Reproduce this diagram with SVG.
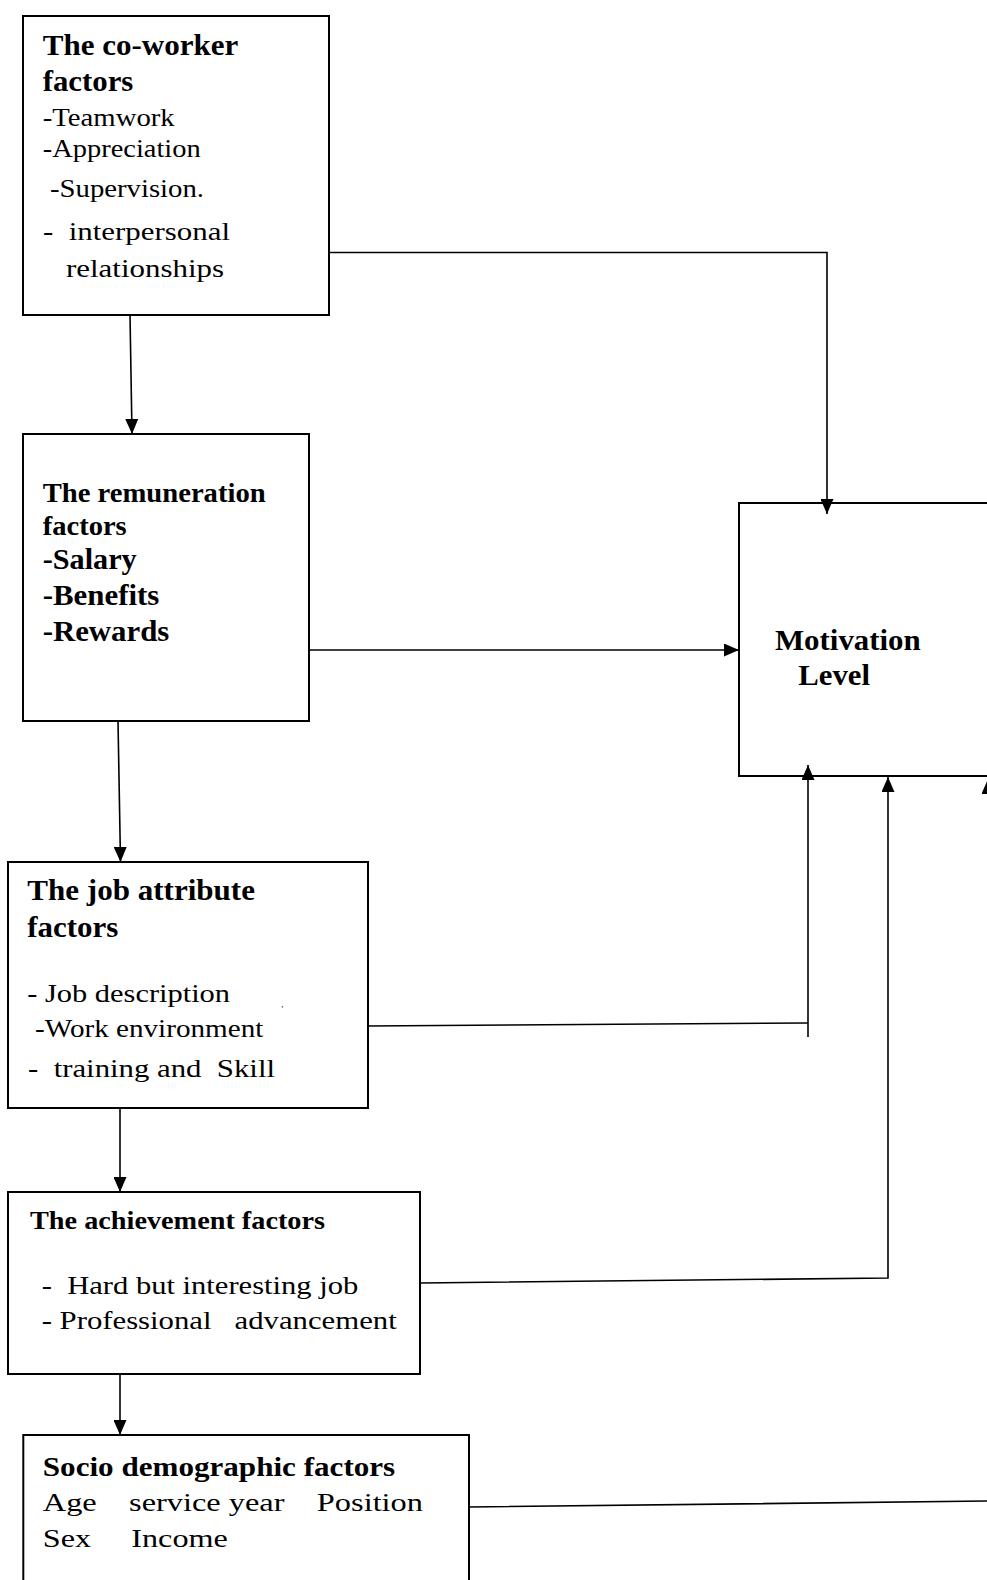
<svg xmlns="http://www.w3.org/2000/svg" width="987" height="1580" viewBox="0 0 987 1580">
<style>
  .box { fill: #ffffff; stroke: #000000; stroke-width: 2; }
  .ln { fill: none; stroke: #000000; stroke-width: 1.6; }
  .t { font-family: 'Liberation Serif', 'Times New Roman', Times, serif; fill: #000000; white-space: pre; }
  .b { font-weight: bold; }
</style>
<defs>
  <marker id="ah" viewBox="0 0 15 13" refX="15" refY="6.5" markerWidth="15" markerHeight="13" orient="auto" markerUnits="userSpaceOnUse">
    <path d="M0,0 L15,6.5 L0,13 z" fill="#000000"/>
  </marker>
</defs>
<rect width="987" height="1580" fill="#ffffff"/>

<g id="node-coworker">
  <rect class="box" x="23" y="16" width="306" height="299"/>
  <text class="t b" x="42.7" y="55" font-size="29" textLength="195.6" lengthAdjust="spacingAndGlyphs">The co-worker</text>
  <text class="t b" x="42.7" y="90.7" font-size="29" textLength="90.6" lengthAdjust="spacingAndGlyphs">factors</text>
  <text class="t" x="42.7" y="126" font-size="25" textLength="132" lengthAdjust="spacingAndGlyphs">-Teamwork</text>
  <text class="t" x="42.7" y="157.3" font-size="25" textLength="158" lengthAdjust="spacingAndGlyphs">-Appreciation</text>
  <text class="t" x="50" y="197" font-size="25" textLength="154" lengthAdjust="spacingAndGlyphs">-Supervision.</text>
  <text class="t" x="43" y="240" font-size="26" textLength="187" lengthAdjust="spacingAndGlyphs">-  interpersonal</text>
  <text class="t" x="66" y="276.7" font-size="26" textLength="158" lengthAdjust="spacingAndGlyphs">relationships</text>
</g>

<g id="node-remuneration">
  <rect class="box" x="23" y="434" width="286" height="287"/>
  <text class="t b" x="42.7" y="502" font-size="27" textLength="223" lengthAdjust="spacingAndGlyphs">The remuneration</text>
  <text class="t b" x="42.7" y="535" font-size="27" textLength="84" lengthAdjust="spacingAndGlyphs">factors</text>
  <text class="t b" x="42.7" y="569" font-size="29" textLength="94" lengthAdjust="spacingAndGlyphs">-Salary</text>
  <text class="t b" x="42.7" y="605" font-size="29" textLength="116.6" lengthAdjust="spacingAndGlyphs">-Benefits</text>
  <text class="t b" x="42.7" y="641" font-size="29" textLength="126.6" lengthAdjust="spacingAndGlyphs">-Rewards</text>
</g>

<g id="node-motivation">
  <rect class="box" x="739" y="503" width="270" height="273"/>
  <text class="t b" x="775" y="650" font-size="29" textLength="145.7" lengthAdjust="spacingAndGlyphs">Motivation</text>
  <text class="t b" x="798.3" y="685" font-size="29" textLength="71.7" lengthAdjust="spacingAndGlyphs">Level</text>
</g>

<g id="node-job">
  <rect class="box" x="8" y="862" width="360" height="246"/>
  <text class="t b" x="27.3" y="900" font-size="29" textLength="227.7" lengthAdjust="spacingAndGlyphs">The job attribute</text>
  <text class="t b" x="27.3" y="937" font-size="29" textLength="91" lengthAdjust="spacingAndGlyphs">factors</text>
  <text class="t" x="27.3" y="1001.7" font-size="26" textLength="202.7" lengthAdjust="spacingAndGlyphs">- Job description</text>
  <text class="t" x="281.5" y="1012" font-size="9">'</text>
  <text class="t" x="35" y="1036.7" font-size="26" textLength="228.3" lengthAdjust="spacingAndGlyphs">-Work environment</text>
  <text class="t" x="28" y="1076.7" font-size="26" textLength="247" lengthAdjust="spacingAndGlyphs">-  training and  Skill</text>
</g>

<g id="node-achievement">
  <rect class="box" x="8" y="1192" width="412" height="182"/>
  <text class="t b" x="30" y="1229" font-size="26" textLength="295" lengthAdjust="spacingAndGlyphs">The achievement factors</text>
  <text class="t" x="41.7" y="1294" font-size="26" textLength="316.6" lengthAdjust="spacingAndGlyphs">-  Hard but interesting job</text>
  <text class="t" x="41.7" y="1329" font-size="26" textLength="355" lengthAdjust="spacingAndGlyphs">- Professional   advancement</text>
</g>

<g id="node-socio">
  <rect class="box" x="23.3" y="1435" width="445.7" height="160"/>
  <text class="t b" x="42.8" y="1476" font-size="27" textLength="352.4" lengthAdjust="spacingAndGlyphs">Socio demographic factors</text>
  <text class="t" x="42.8" y="1510.7" font-size="26" textLength="380.2" lengthAdjust="spacingAndGlyphs">Age    service year    Position</text>
  <text class="t" x="42.8" y="1546.7" font-size="26" textLength="185" lengthAdjust="spacingAndGlyphs">Sex     Income</text>
</g>

<g id="connectors">
  <path class="ln" d="M329,252.5 H827 V514" marker-end="url(#ah)"/>
  <path class="ln" d="M130,315 L132,434" marker-end="url(#ah)"/>
  <path class="ln" d="M309,650 H739" marker-end="url(#ah)"/>
  <path class="ln" d="M118,721 L120.5,862" marker-end="url(#ah)"/>
  <path class="ln" d="M368,1026 L808,1023"/>
  <path class="ln" d="M808,1037 V765" marker-end="url(#ah)"/>
  <path class="ln" d="M120,1108 V1192" marker-end="url(#ah)"/>
  <path class="ln" d="M420,1283 L888,1278 V777" marker-end="url(#ah)"/>
  <path class="ln" d="M120,1374 V1435" marker-end="url(#ah)"/>
  <path class="ln" d="M469,1507 L988,1501 V779" marker-end="url(#ah)"/>
</g>
</svg>
